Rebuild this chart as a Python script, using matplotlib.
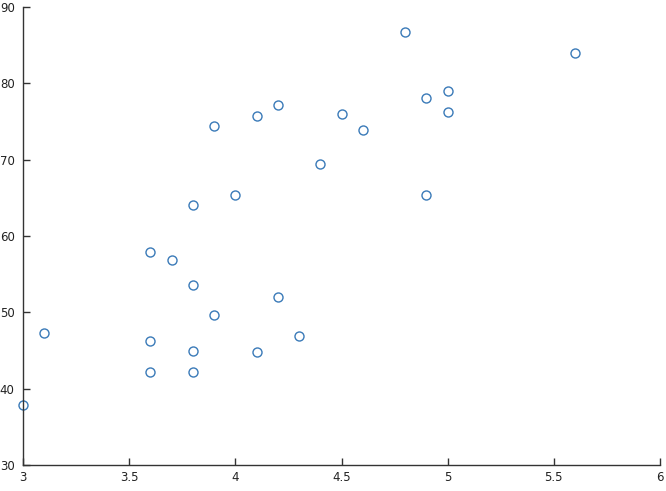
import matplotlib
matplotlib.use("Agg")
import matplotlib.pyplot as plt

x_vals = [3.0, 3.1, 3.6, 3.6, 3.8, 3.8, 4.1, 4.3, 3.9, 4.2, 3.8, 3.7, 3.6, 3.8,
          4.0, 4.4, 4.9, 3.9, 4.1, 4.2, 4.5, 4.6, 4.9, 5.0, 5.0, 4.8, 5.6]
y_vals = [37.8, 47.3, 46.3, 42.2, 44.9, 42.2, 44.8, 46.9, 49.6, 52.0, 53.6, 56.8,
          57.9, 64.1, 65.4, 69.4, 65.4, 74.4, 75.7, 77.1, 76.0, 73.9, 78.1, 79.0,
          76.2, 86.7, 84.0]

x_ticks = [3, 3.5, 4, 4.5, 5, 5.5, 6]
x_tick_labels = ["3", "3.5", "4", "4.5", "5", "5.5", "6"]
y_ticks = [30, 40, 50, 60, 70, 80, 90]

fig = plt.figure(figsize=(6.66, 4.91), dpi=100)
ax = fig.add_axes([23 / 666, 26 / 491, 637 / 666, 458 / 491])

ax.plot(x_vals, y_vals, linestyle="none", marker="o", markersize=6.5,
        markerfacecolor="none", markeredgecolor="#3a7ab8", markeredgewidth=1.0,
        clip_on=False)

ax.set_xlim(3, 6)
ax.set_ylim(30, 90)
ax.set_xticks(x_ticks)
ax.set_xticklabels(x_tick_labels)
ax.set_yticks(y_ticks)

for side in ["top", "right"]:
    ax.spines[side].set_visible(False)
for side in ["left", "bottom"]:
    ax.spines[side].set_color("#333333")
    ax.spines[side].set_linewidth(1.0)

ax.tick_params(direction="in", length=5, width=1, color="#333333",
               labelsize=8.5, labelcolor="#222222", pad=4)
ax.tick_params(axis="y", pad=6)

fig.savefig("out.png", dpi=100)
